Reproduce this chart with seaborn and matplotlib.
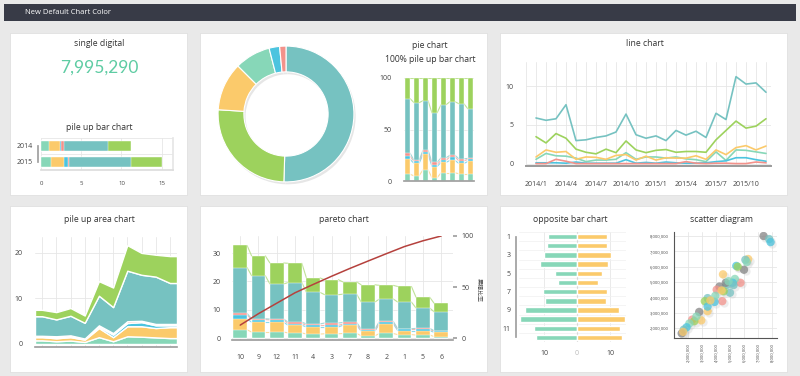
import matplotlib.pyplot as plt
import numpy as np
import pandas as pd
import seaborn as sns
from matplotlib.patches import Rectangle
from matplotlib.colors import to_rgb
from matplotlib.transforms import offset_copy

W, H = 800, 376

# colours of the default chart palette
palette = {
    'mint': '#87d7b8',
    'yellow': '#fbca6b',
    'blue': '#4cc4df',
    'pink': '#f3928b',
    'teal': '#76c2c1',
    'green': '#9dd25d',
    'gray': '#858585',
}
stack_names = ['mint', 'yellow', 'blue', 'pink', 'teal', 'green']
pareto_red = '#b5413d'

# ---- data ----
single_value = 7995290

pile_years = ['2014', '2015']
pile_mint = [1.0, 1.2]
pile_yellow = [1.3, 1.7]
pile_blue = [0.2, 0.4]
pile_pink = [0.3, 0.2]
pile_teal = [5.5, 7.7]
pile_green = [2.9, 3.8]

pie_names = ['teal', 'green', 'yellow', 'mint', 'blue', 'pink']
pie_values = [50.5, 25.5, 11.5, 8.5, 2.5, 1.5]

pct_mint = [6.5, 5, 11, 3, 8, 8, 7, 7]
pct_yellow = [14.5, 12, 15, 11, 10, 12, 10, 12]
pct_blue = [3, 2, 2, 2, 2, 3.5, 2.5, 2]
pct_pink = [3, 1, 2, 2, 2.5, 1.5, 2, 1]
pct_teal = [53, 56, 48, 48, 51.5, 52, 53.5, 48]
pct_green = [20, 24, 22, 34, 26, 23, 25, 30]

months = [f'{y}/{m}' for y in (2014, 2015) for m in range(1, 13)]
line_teal = [5.9, 5.6, 5.8, 7.6, 3.0, 3.1, 3.4, 3.6, 4.1, 6.4, 3.75, 3.3,
             3.6, 3.0, 4.3, 3.7, 4.2, 3.4, 6.5, 5.7, 11.2, 10.25, 10.4, 9.2]
line_green = [3.5, 2.7, 3.9, 3.3, 1.9, 1.5, 1.3, 1.9, 1.45, 2.95, 1.8, 1.45,
              1.75, 1.85, 1.5, 1.6, 1.6, 1.5, 3.1, 4.3, 5.5, 4.6, 4.85, 5.8]
line_yellow = [0.9, 1.8, 1.5, 1.6, 0.6, 0.9, 0.85, 0.6, 1.1, 1.2, 0.5, 1.0,
               0.5, 0.8, 0.75, 0.75, 1.05, 0.6, 1.8, 1.2, 2.1, 2.35, 1.8, 2.3]
line_mint = [0.6, 1.35, 1.05, 1.0, 0.75, 0.3, 0.5, 0.5, 0.6, 1.45, 0.6, 0.9,
             0.9, 0.75, 0.9, 0.65, 0.55, 0.3, 1.55, 0.45, 1.8, 1.75, 1.55, 1.35]
line_blue = [0.15, 0.15, 0.15, 0.1, 0.25, 0.1, 0.1, 0.1, 0.1, 0.55, 0.1, 0.2,
             0.1, 0.25, 0.15, 0.1, 0.1, 0.15, 0.3, 0.4, 0.8, 0.8, 0.55, 0.35]
line_pink = [0.05, 0.05, 0.6, 0.35, 0.05, 0.05, 0.05, 0.05, 0.05, 0.05, 0.05, 0.05,
             0.05, 0.05, 0.05, 0.3, 0.1, 0.05, 0.1, 0.1, 0.05, 0.05, 0.25, 0.15]

area_mint = [0.8, 0.6, 0.75, 0.45, 1.5, 0.6, 1.7, 1.6, 1.45, 1.3]
area_yellow = [0.7, 0.65, 0.75, 0.5, 2.0, 0.9, 2.2, 2.3, 2.05, 2.4]
area_blue = [0.15, 0.2, 0.15, 0.2, 0.3, 0.55, 0.7, 0.9, 0.6, 0.4]
area_pink = [0.15, 0.25, 0.25, 0.05, 0.3, 0.35, 0.4, 0.3, 0.3, 0.3]
area_teal = [4.3, 3.7, 4.3, 3.45, 6.5, 5.7, 11.1, 10.1, 10.4, 9.0]
area_green = [1.4, 1.6, 1.7, 1.6, 3.2, 4.3, 5.6, 4.8, 4.8, 5.9]

pareto_cats = ['10', '9', '12', '11', '4', '3', '7', '8', '2', '1', '5', '6']
pareto_mint = [2.9, 2.1, 2.1, 1.8, 1.4, 1.5, 1.6, 0.8, 1.6, 1.2, 1.05, 0.5]
pareto_yellow = [3.8, 3.5, 3.5, 2.7, 2.5, 2.4, 2.9, 1.6, 3.5, 1.4, 1.55, 1.5]
pareto_blue = [1.5, 0.9, 0.8, 0.6, 0.6, 0.6, 0.4, 0.3, 0.4, 0.5, 0.5, 0.35]
pareto_pink = [0.5, 0.3, 0.3, 0.5, 0.5, 0.8, 0.6, 0.5, 0.4, 0.2, 0.3, 0.25]
pareto_teal = [16.2, 15.2, 12.4, 14.0, 11.1, 10.0, 10.0, 9.5, 7.9, 9.4, 7.2, 6.6]
pareto_green = [7.8, 7.0, 7.4, 6.8, 5.1, 5.3, 4.3, 6.1, 4.8, 5.5, 3.8, 3.0]
pareto_ylabel = '累積比率'

opp_rows = [str(i) for i in range(1, 13)]
opp_left = [8.8, 9.1, 10.0, 11.3, 6.6, 5.9, 10.3, 9.7, 15.8, 17.4, 12.9, 12.3]
opp_right = [9.1, 9.2, 10.4, 9.5, 7.7, 6.3, 9.1, 8.9, 12.7, 14.4, 12.9, 13.7]

scatter_x = [7.4, 7.8, 7.9, 6.3, 6.1, 6.2, 5.45, 6.0, 5.55, 4.5, 4.75, 4.7,
             5.75, 5.35, 5.2, 5.0, 4.25, 4.05, 4.55, 4.4, 4.45, 3.9, 3.95, 3.4,
             3.2, 3.4, 3.4, 2.8, 2.95, 2.3, 2.45, 2.1, 1.9, 1.7, 1.55, 1.65,
             5.25, 4.9, 3.6, 2.6]
scatter_y = [8.0, 7.8, 7.6, 6.5, 6.45, 6.3, 6.05, 5.8, 6.0, 5.5, 4.8, 4.95,
             4.95, 5.2, 4.95, 4.3, 4.7, 4.5, 4.4, 4.45, 3.75, 3.7, 4.1, 3.95,
             3.75, 3.1, 3.4, 3.05, 2.5, 2.55, 2.45, 2.3, 2.05, 1.9, 1.65, 1.75,
             4.8, 5.05, 3.8, 2.75]
scatter_col = ['gray', 'teal', 'blue', 'yellow', 'teal', 'mint', 'blue', 'gray',
               'green', 'yellow', 'teal', 'gray', 'pink', 'mint', 'blue', 'teal',
               'gray', 'pink', 'green', 'yellow', 'pink', 'blue', 'mint', 'teal',
               'green', 'yellow', 'blue', 'gray', 'yellow', 'pink', 'green', 'mint',
               'blue', 'teal', 'gray', 'yellow', 'teal', 'mint', 'yellow', 'mint']

# ---- style ----
sns.set_theme(style='white')
plt.rcParams['font.family'] = ['Open Sans', 'Noto Sans CJK JP', 'DejaVu Sans']
txt = '#444444'
grid_c = '#e6e6e6'
axis_c = '#a0a0a0'
TICK = 5


def rect(x0, y0, x1, y1):
    return [x0 / W, 1 - y1 / H, (x1 - x0) / W, (y1 - y0) / H]


def lighten(c, f=0.45):
    r = np.array(to_rgb(c))
    return tuple(r + (1 - r) * f)


def base(ax):
    ax.set_facecolor('none')
    for s in ax.spines.values():
        s.set_visible(False)
    ax.tick_params(labelsize=TICK, colors=txt, length=0, pad=3)
    ax.set_xlabel('')
    ax.set_ylabel('')


def title(x, y, s, size=6.2):
    fig.text(x / W, 1 - y / H, s, ha='center', va='center', fontsize=size, color='#333333')


def stacked(ax, cats, layers, width, orient='v'):
    cum = np.cumsum(np.array(layers, dtype=float), axis=0)
    for k in range(len(layers) - 1, -1, -1):
        col = palette[stack_names[k]]
        if orient == 'v':
            sns.barplot(x=cats, y=cum[k], order=cats, color=col, saturation=1,
                        width=width, ax=ax, zorder=2, edgecolor='white', linewidth=0.3)
        else:
            sns.barplot(x=cum[k], y=cats, order=cats, orient='h', color=col, saturation=1,
                        width=width, ax=ax, zorder=2, edgecolor='white', linewidth=0.3)
    return cum


def connectors(ax, cum, width):
    n = cum.shape[1]
    for k in range(len(cum)):
        col = lighten(palette[stack_names[min(k + 1, len(cum) - 1)]], 0.35)
        for i in range(n - 1):
            ax.plot([i + width / 2, i + 1 - width / 2], [cum[k, i], cum[k, i + 1]],
                    color=col, lw=0.8, zorder=1.5)


fig = plt.figure(figsize=(W / 100, H / 100), dpi=100, facecolor='#e9e9e9')

# header and panels
fig.add_artist(Rectangle((4 / W, 1 - 21 / H), 792 / W, 17 / H, transform=fig.transFigure,
                         facecolor='#383b47', edgecolor='none', zorder=-5))
fig.text(25 / W, 1 - 12.5 / H, 'New Default Chart Color', color='white', fontsize=5.5,
         va='center')
for x0, y0, x1, y1 in [(10, 33, 187, 195), (200, 33, 487, 195), (500, 33, 787, 195),
                       (10, 206, 187, 372), (200, 206, 487, 372), (500, 206, 787, 372)]:
    fig.add_artist(Rectangle((x0 / W, 1 - y1 / H), (x1 - x0) / W, (y1 - y0) / H,
                             transform=fig.transFigure, facecolor='white',
                             edgecolor='#dcdcdc', lw=0.5, zorder=-5))

# ---- single digital ----
title(99, 44, 'single digital')
fig.text(99 / W, 1 - 68 / H, f'{single_value:,}', ha='center', va='center',
         fontsize=12.5, color='#5ecca3', family='Lato')

# ---- pile up bar chart ----
title(99, 127, 'pile up bar chart')
ax = fig.add_axes(rect(41, 138, 173, 170))
stacked(ax, pile_years, [pile_mint, pile_yellow, pile_blue, pile_pink, pile_teal, pile_green],
        0.6, orient='h')
base(ax)
ax.set_xlim(0, 16.4)
ax.set_ylim(1.5, -0.5)
ax.set_xticks([0, 5, 10, 15])
ax.set_yticks([-0.5, 0.5, 1.5], minor=True)
ax.grid(True, axis='x', color=grid_c, lw=0.6, zorder=0)
ax.grid(True, axis='y', which='minor', color=grid_c, lw=0.6)
ax.spines['right'].set_visible(True)
ax.spines['right'].set_color(grid_c)
ax.spines['bottom'].set_visible(True)
ax.spines['bottom'].set_color('#dddddd')
ax.spines['left'].set_visible(True)
ax.spines['left'].set_color(axis_c)
ax.spines['left'].set_bounds(0, 1)
ax.spines['left'].set_position(('outward', 2))
ax.tick_params(axis='y', which='major', length=3, color=axis_c, pad=1)
ax.tick_params(axis='x', labelsize=4.3, length=2, color='#cccccc', pad=6)
ax.tick_params(which='minor', length=0)

# ---- donut ----
ax = fig.add_axes(rect(214, 42, 358, 186))
ax.pie(pie_values, colors=['#e6e6e6'] * len(pie_values), startangle=90, counterclock=False,
       center=(0.025, -0.035), wedgeprops=dict(width=0.38, edgecolor='none'))
ax.pie(pie_values, colors=[palette[n] for n in pie_names], startangle=90, counterclock=False,
       wedgeprops=dict(width=0.38, edgecolor='white', linewidth=0.8))
ax.set_xlim(-1.06, 1.06)
ax.set_ylim(-1.06, 1.06)
ax.set_aspect('equal')
ax.axis('off')

# ---- 100% pile up bar chart ----
title(430, 46, 'pie chart')
title(430, 59, '100% pile up bar chart')
ax = fig.add_axes(rect(404, 78, 474, 181))
pct_x = [str(i) for i in range(len(pct_mint))]
cum = stacked(ax, pct_x, [pct_mint, pct_yellow, pct_blue, pct_pink, pct_teal, pct_green], 0.55)
connectors(ax, cum, 0.55)
base(ax)
ax.set_xlim(-0.4, len(pct_x) - 0.6)
ax.set_ylim(0, 100)
ax.set_yticks([0, 50, 100])
ax.set_xticklabels([])
ax.grid(True, axis='y', color=grid_c, lw=0.6, zorder=0)
ax.spines['bottom'].set_visible(True)
ax.spines['bottom'].set_color(axis_c)
ax.tick_params(axis='y', pad=9)
ax.tick_params(axis='x', length=2.5, color=axis_c)

# ---- line chart ----
title(645, 44, 'line chart')
ax = fig.add_axes(rect(526, 62, 771, 166))
line_series = {'mint': line_mint, 'yellow': line_yellow, 'blue': line_blue,
               'pink': line_pink, 'green': line_green, 'teal': line_teal}
line_df = pd.DataFrame({
    'month': np.tile(np.arange(len(months)), len(line_series)),
    'value': np.concatenate(list(line_series.values())),
    'series': np.repeat(list(line_series.keys()), len(months)),
})
sns.lineplot(data=line_df, x='month', y='value', hue='series', hue_order=list(line_series),
             palette=palette, legend=False, lw=1.2, ax=ax, zorder=3)
base(ax)
ax.set_xlim(-1, len(months) - 0.5)
ax.set_ylim(-0.26, 13.08)
ax.set_xticks(np.arange(len(months)))
ax.set_xticklabels([m if i % 3 == 0 else '' for i, m in enumerate(months)])
ax.set_xticks([-1], minor=True)
ax.set_yticks([0, 5, 10])
ax.grid(True, which='both', color=grid_c, lw=0.6, zorder=0)
ax.spines['bottom'].set_visible(True)
ax.spines['bottom'].set_color('#9a9a9a')
ax.spines['bottom'].set_linewidth(1.4)
ax.tick_params(axis='x', length=3, color='#9a9a9a', pad=8)
ax.tick_params(axis='y', pad=9)
ax.tick_params(which='minor', length=0)

# ---- pile up area chart ----
title(99, 219, 'pile up area chart')
ax = fig.add_axes(rect(35, 237, 177, 347))
area_layers = [area_mint, area_yellow, area_blue, area_pink, area_teal, area_green]
area_x = np.arange(len(area_mint))
ext_x = np.r_[area_x[0] - 0.5, area_x, area_x[-1] + 0.5]
ext_layers = [np.pad(np.asarray(l, float), 1, mode='edge') for l in area_layers]
ax.stackplot(ext_x, *ext_layers, colors=[palette[n] for n in stack_names], zorder=2)
base(ax)
ax.set_xlim(-0.5, len(area_x) - 0.5)
ax.set_ylim(-0.66, 23.5)
ax.set_xticks(area_x)
ax.set_xticklabels([])
ax.set_yticks([0, 10, 20])
ax.grid(True, color=grid_c, lw=0.6, zorder=0)
ax.spines['bottom'].set_visible(True)
ax.spines['bottom'].set_color('#9a9a9a')
ax.spines['bottom'].set_linewidth(1.2)
ax.tick_params(axis='x', length=3, color='#9a9a9a')
ax.tick_params(axis='y', pad=9)

# ---- pareto chart ----
title(344, 219, 'pareto chart')
ax = fig.add_axes(rect(232, 236, 453, 340))
cum = stacked(ax, pareto_cats, [pareto_mint, pareto_yellow, pareto_blue, pareto_pink,
                                pareto_teal, pareto_green], 0.75)
connectors(ax, cum, 0.75)
base(ax)
ax.set_xlim(-0.45, len(pareto_cats) - 0.35)
ax.set_ylim(-0.7, 36.04)
ax.set_yticks([0, 10, 20, 30])
ax.grid(True, color=grid_c, lw=0.6, zorder=0)
ax.spines['bottom'].set_visible(True)
ax.spines['bottom'].set_color('#9a9a9a')
ax.spines['bottom'].set_linewidth(1.2)
ax.tick_params(axis='x', length=4, color='#9a9a9a', pad=6)
ax.tick_params(axis='y', pad=8)
ax2 = ax.twinx()
totals = cum[-1]
ratio = np.cumsum(totals) / totals.sum() * 100
ax2.plot(np.arange(len(pareto_cats)), ratio, color=pareto_red, lw=1.1, zorder=5)
base(ax2)
ax2.set_ylim(-1.94, 99.5)
ax2.set_yticks([0, 50, 100])
ax2.tick_params(axis='y', length=3, color=axis_c, pad=3)
ax2.grid(False)
fig.text(478 / W, 1 - 290 / H, pareto_ylabel, rotation=-90, ha='center', va='center',
         fontsize=4.3, color=txt, family=['Noto Sans CJK JP', 'DejaVu Sans'])

# ---- opposite bar chart ----
title(570, 219, 'opposite bar chart')
ax = fig.add_axes(rect(519, 232, 626, 342))
sns.barplot(x=-np.asarray(opp_left), y=opp_rows, order=opp_rows, orient='h',
            color=palette['mint'], saturation=1, width=0.6, ax=ax, zorder=2)
sns.barplot(x=opp_right, y=opp_rows, order=opp_rows, orient='h',
            color=palette['yellow'], saturation=1, width=0.6, ax=ax, zorder=2)
base(ax)
ax.set_xlim(-17.6, 14.85)
ax.set_ylim(len(opp_rows) - 0.55, -0.45)
ax.set_xticks([-10, 0, 10])
ax.set_xticklabels(['10', '0', '10'])
ax.get_xticklabels()[1].set_color('#bbbbbb')
ax.set_yticklabels([r if i % 2 == 0 else '' for i, r in enumerate(opp_rows)])
ax.set_yticks(np.arange(len(opp_rows) + 1) - 0.5, minor=True)
ax.grid(True, axis='x', color=grid_c, lw=0.6, zorder=0)
ax.grid(True, axis='y', which='minor', color='#f0f0f0', lw=0.5)
ax.axvline(0, color='#d8d8d8', lw=0.8, zorder=1)
ax.spines['left'].set_visible(True)
ax.spines['left'].set_color(axis_c)
ax.spines['left'].set_position(('outward', 2))
ax.spines['left'].set_bounds(0, len(opp_rows) - 1)
ax.tick_params(axis='y', which='major', length=3, color=axis_c, pad=1)
ax.tick_params(axis='x', pad=6)
ax.tick_params(which='minor', length=0)

# ---- scatter diagram ----
title(722, 219, 'scatter diagram')
ax = fig.add_axes(rect(674, 232, 777, 338))
sc_df = pd.DataFrame({'x': np.asarray(scatter_x) * 1e6, 'y': np.asarray(scatter_y) * 1e6,
                      'c': scatter_col})
ax.scatter(sc_df['x'], sc_df['y'], s=36, color='#bbbbbb', alpha=0.25, lw=0,
           transform=offset_copy(ax.transData, fig=fig, x=1.2, y=-1.2, units='points'), zorder=2)
sns.scatterplot(data=sc_df, x='x', y='y', hue='c', palette=palette, s=36, alpha=0.75,
                edgecolor='none', legend=False, ax=ax, zorder=3)
base(ax)
ax.set_xlim(1.0e6, 8.36e6)
ax.set_ylim(1.35e6, 8.26e6)
ticks = np.arange(2, 9) * 1e6
ax.set_xticks(ticks)
ax.set_yticks(ticks)
ax.set_xticklabels([f'{t:,.0f}' for t in ticks], rotation=90)
ax.set_yticklabels([f'{t:,.0f}' for t in ticks])
ax.grid(True, color=grid_c, lw=0.6, zorder=0)
for s in ('left', 'bottom'):
    ax.spines[s].set_visible(True)
    ax.spines[s].set_color('#555555')
    ax.spines[s].set_linewidth(0.8)
ax.tick_params(labelsize=3, length=2, color='#555555', pad=2)

fig.savefig('out.png', dpi=100, facecolor=fig.get_facecolor())
